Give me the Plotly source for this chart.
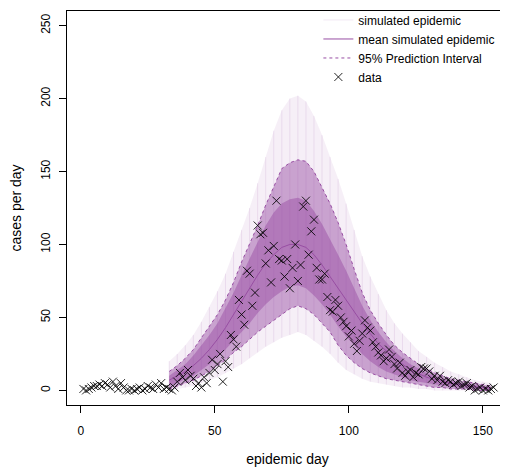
import plotly.graph_objects as go

# ---------------- data ----------------
days = list(range(1, 155))
cases = [1, 0, 1, 2, 3, 3, 4, 3, 5, 4, 2, 6, 3, 1, 5, 2, 0, 0, 1, 0,
         1, 2, 0, 1, 3, 2, 1, 4, 2, 5, 1, 2,
         1, 0, 2, 6, 12, 9, 7, 14, 10, 8, 3, 5, 2, 9, 5, 12, 21, 14,
         18, 25, 6, 20, 16, 38, 35, 30, 62, 52, 45, 82, 80, 58, 67, 113, 107, 108, 87, 96,
         74, 99, 130, 90, 89, 78, 90, 70, 84, 100, 75, 86, 126, 130, 93, 109, 117, 84, 76, 76,
         80, 64, 55, 54, 62, 58, 50, 47, 44, 37, 41, 32, 27, 34, 39, 48, 43, 41, 33, 30,
         26, 24, 20, 22, 28, 23, 18, 15, 19, 12, 10, 13, 14, 9, 12, 11, 16, 15, 15, 13,
         8, 10, 7, 10, 6, 5, 7, 6, 4, 5, 6, 3, 4, 5, 2, 3, 0, 1, 2, 0,
         1, 0, 1, 2]

sim_days = list(range(33, 154, 3))
sim_mean = [7, 10, 13, 17, 22, 28, 35, 43, 52, 61, 70, 79, 87, 93, 98, 100, 100, 98, 93, 86,
            78, 70, 62, 54, 46, 39, 32, 27, 22, 18, 14, 11.5, 9, 7.5, 6, 5, 4, 3, 2.5, 2, 1.5]
pi_upper = [13, 17, 22, 28, 36, 44, 52, 62, 74, 88, 100, 113, 127, 140, 152, 156, 158, 157, 150, 139,
            128, 115, 100, 83, 67, 55, 46, 38, 31, 26, 22, 18, 15, 12, 10, 8, 7, 6, 5, 4, 3]
pi_lower = [1, 3, 5, 7, 10, 13, 17, 21, 26, 30, 35, 40, 44, 48, 52, 56, 58, 56, 52, 46,
            40, 31, 24, 19, 15, 12, 10, 8, 7, 6, 5, 4, 3, 2, 2, 1, 1, 1, 0, 0, 0]
sim_max = [20, 25, 31, 38, 47, 57, 68, 80, 95, 110, 125, 142, 160, 178, 192, 200, 202, 198, 188, 175,
           160, 145, 128, 110, 92, 78, 66, 55, 46, 39, 33, 27, 23, 19, 16, 13, 11, 9, 7, 6, 5]
sim_min = [0, 1, 2, 3, 5, 7, 9, 12, 15, 18, 22, 26, 30, 33, 36, 38, 40, 38, 34, 30,
           25, 19, 14, 11, 8, 6, 5, 4, 3, 2, 2, 1, 1, 0, 0, 0, 0, 0, 0, 0, 0]
core_hi = [10, 14, 18, 24, 31, 38, 46, 56, 67, 79, 90, 102, 113, 122, 128, 131, 132, 130, 123, 114,
           104, 93, 82, 70, 58, 48, 40, 33, 27, 22, 18, 15, 12, 10, 8, 6.5, 5.5, 4.5, 3.5, 3, 2]
core_lo = [3, 5, 8, 10, 14, 18, 23, 28, 34, 40, 46, 53, 59, 64, 68, 71, 72, 70, 65, 59,
           52, 44, 37, 31, 25, 20, 16, 13, 11, 9, 7, 6, 5, 4, 3, 2.5, 2, 1.5, 1, 0.5, 0.5]

x_ticks = [0, 50, 100, 150]
y_ticks = [0, 50, 100, 150, 200, 250]

for arr in (sim_mean, pi_upper, pi_lower, sim_max, sim_min, core_hi, core_lo):
    assert len(arr) == len(sim_days)
assert len(cases) == len(days)

PURPLE = "#984EA3"
FONT = "Liberation Sans, Arial, sans-serif"

fig = go.Figure()


def band(lo, hi, fillcol):
    fig.add_trace(go.Scatter(x=sim_days, y=lo, mode="lines", line=dict(width=0),
                             showlegend=False, hoverinfo="skip"))
    fig.add_trace(go.Scatter(x=sim_days, y=hi, mode="lines", line=dict(width=0),
                             fill="tonexty", fillcolor=fillcol, showlegend=False,
                             hoverinfo="skip"))


band(sim_min, sim_max, "rgba(152,78,163,0.09)")
band(pi_lower, pi_upper, "rgba(152,78,163,0.48)")
band(core_lo, core_hi, "rgba(152,78,163,0.48)")

# faint simulated epidemic strokes (vertical spread at each sampled day)
seg_x, seg_y = [], []
for d, lo, hi in zip(sim_days, sim_min, sim_max):
    seg_x += [d, d, None]
    seg_y += [lo, hi, None]
fig.add_trace(go.Scatter(x=seg_x, y=seg_y, mode="lines", name="simulated epidemic",
                         line=dict(color="rgba(152,78,163,0.12)", width=1)))

fig.add_trace(go.Scatter(x=sim_days, y=sim_mean, mode="lines", name="mean simulated epidemic",
                         line=dict(color=PURPLE, width=1)))
fig.add_trace(go.Scatter(x=sim_days, y=pi_upper, mode="lines", name="95% Prediction Interval",
                         line=dict(color=PURPLE, width=1, dash="3px,3px")))
fig.add_trace(go.Scatter(x=sim_days, y=pi_lower, mode="lines", showlegend=False,
                         line=dict(color=PURPLE, width=1, dash="3px,3px")))
fig.add_trace(go.Scatter(x=days, y=cases, mode="markers", name="data",
                         marker=dict(symbol="x-thin", size=8, color="black",
                                     line=dict(color="rgba(0,0,0,0.85)", width=1))))

# the page body adds an 8px margin, so the figure is 8px smaller and margins shifted
fig.update_layout(
    width=500, height=463,
    margin=dict(l=59, r=0, t=3, b=66, autoexpand=False),
    paper_bgcolor="white", plot_bgcolor="white",
    font=dict(family=FONT, size=12, color="black"),
    legend=dict(x=0.57, y=1.014, xanchor="left", yanchor="top", traceorder="normal",
                bgcolor="rgba(0,0,0,0)", font=dict(size=12)),
)
fig.update_xaxes(range=[-5.12, 159.37], tickvals=x_ticks, ticks="outside", ticklen=7,
                 tickcolor="black", showline=True, linecolor="black", linewidth=1,
                 mirror=True, showgrid=False, zeroline=False, automargin=False,
                 ticklabelstandoff=8,
                 title=dict(text="epidemic day", standoff=16))
fig.update_yaxes(range=[-10, 260], tickvals=y_ticks, ticks="outside", ticklen=7,
                 tickcolor="black", showline=True, linecolor="black", linewidth=1,
                 showgrid=False, zeroline=False, tickangle=-90, automargin=False,
                 ticklabelstandoff=4,
                 title=dict(text="cases per day", standoff=20))

fig.write_html("out.html")
